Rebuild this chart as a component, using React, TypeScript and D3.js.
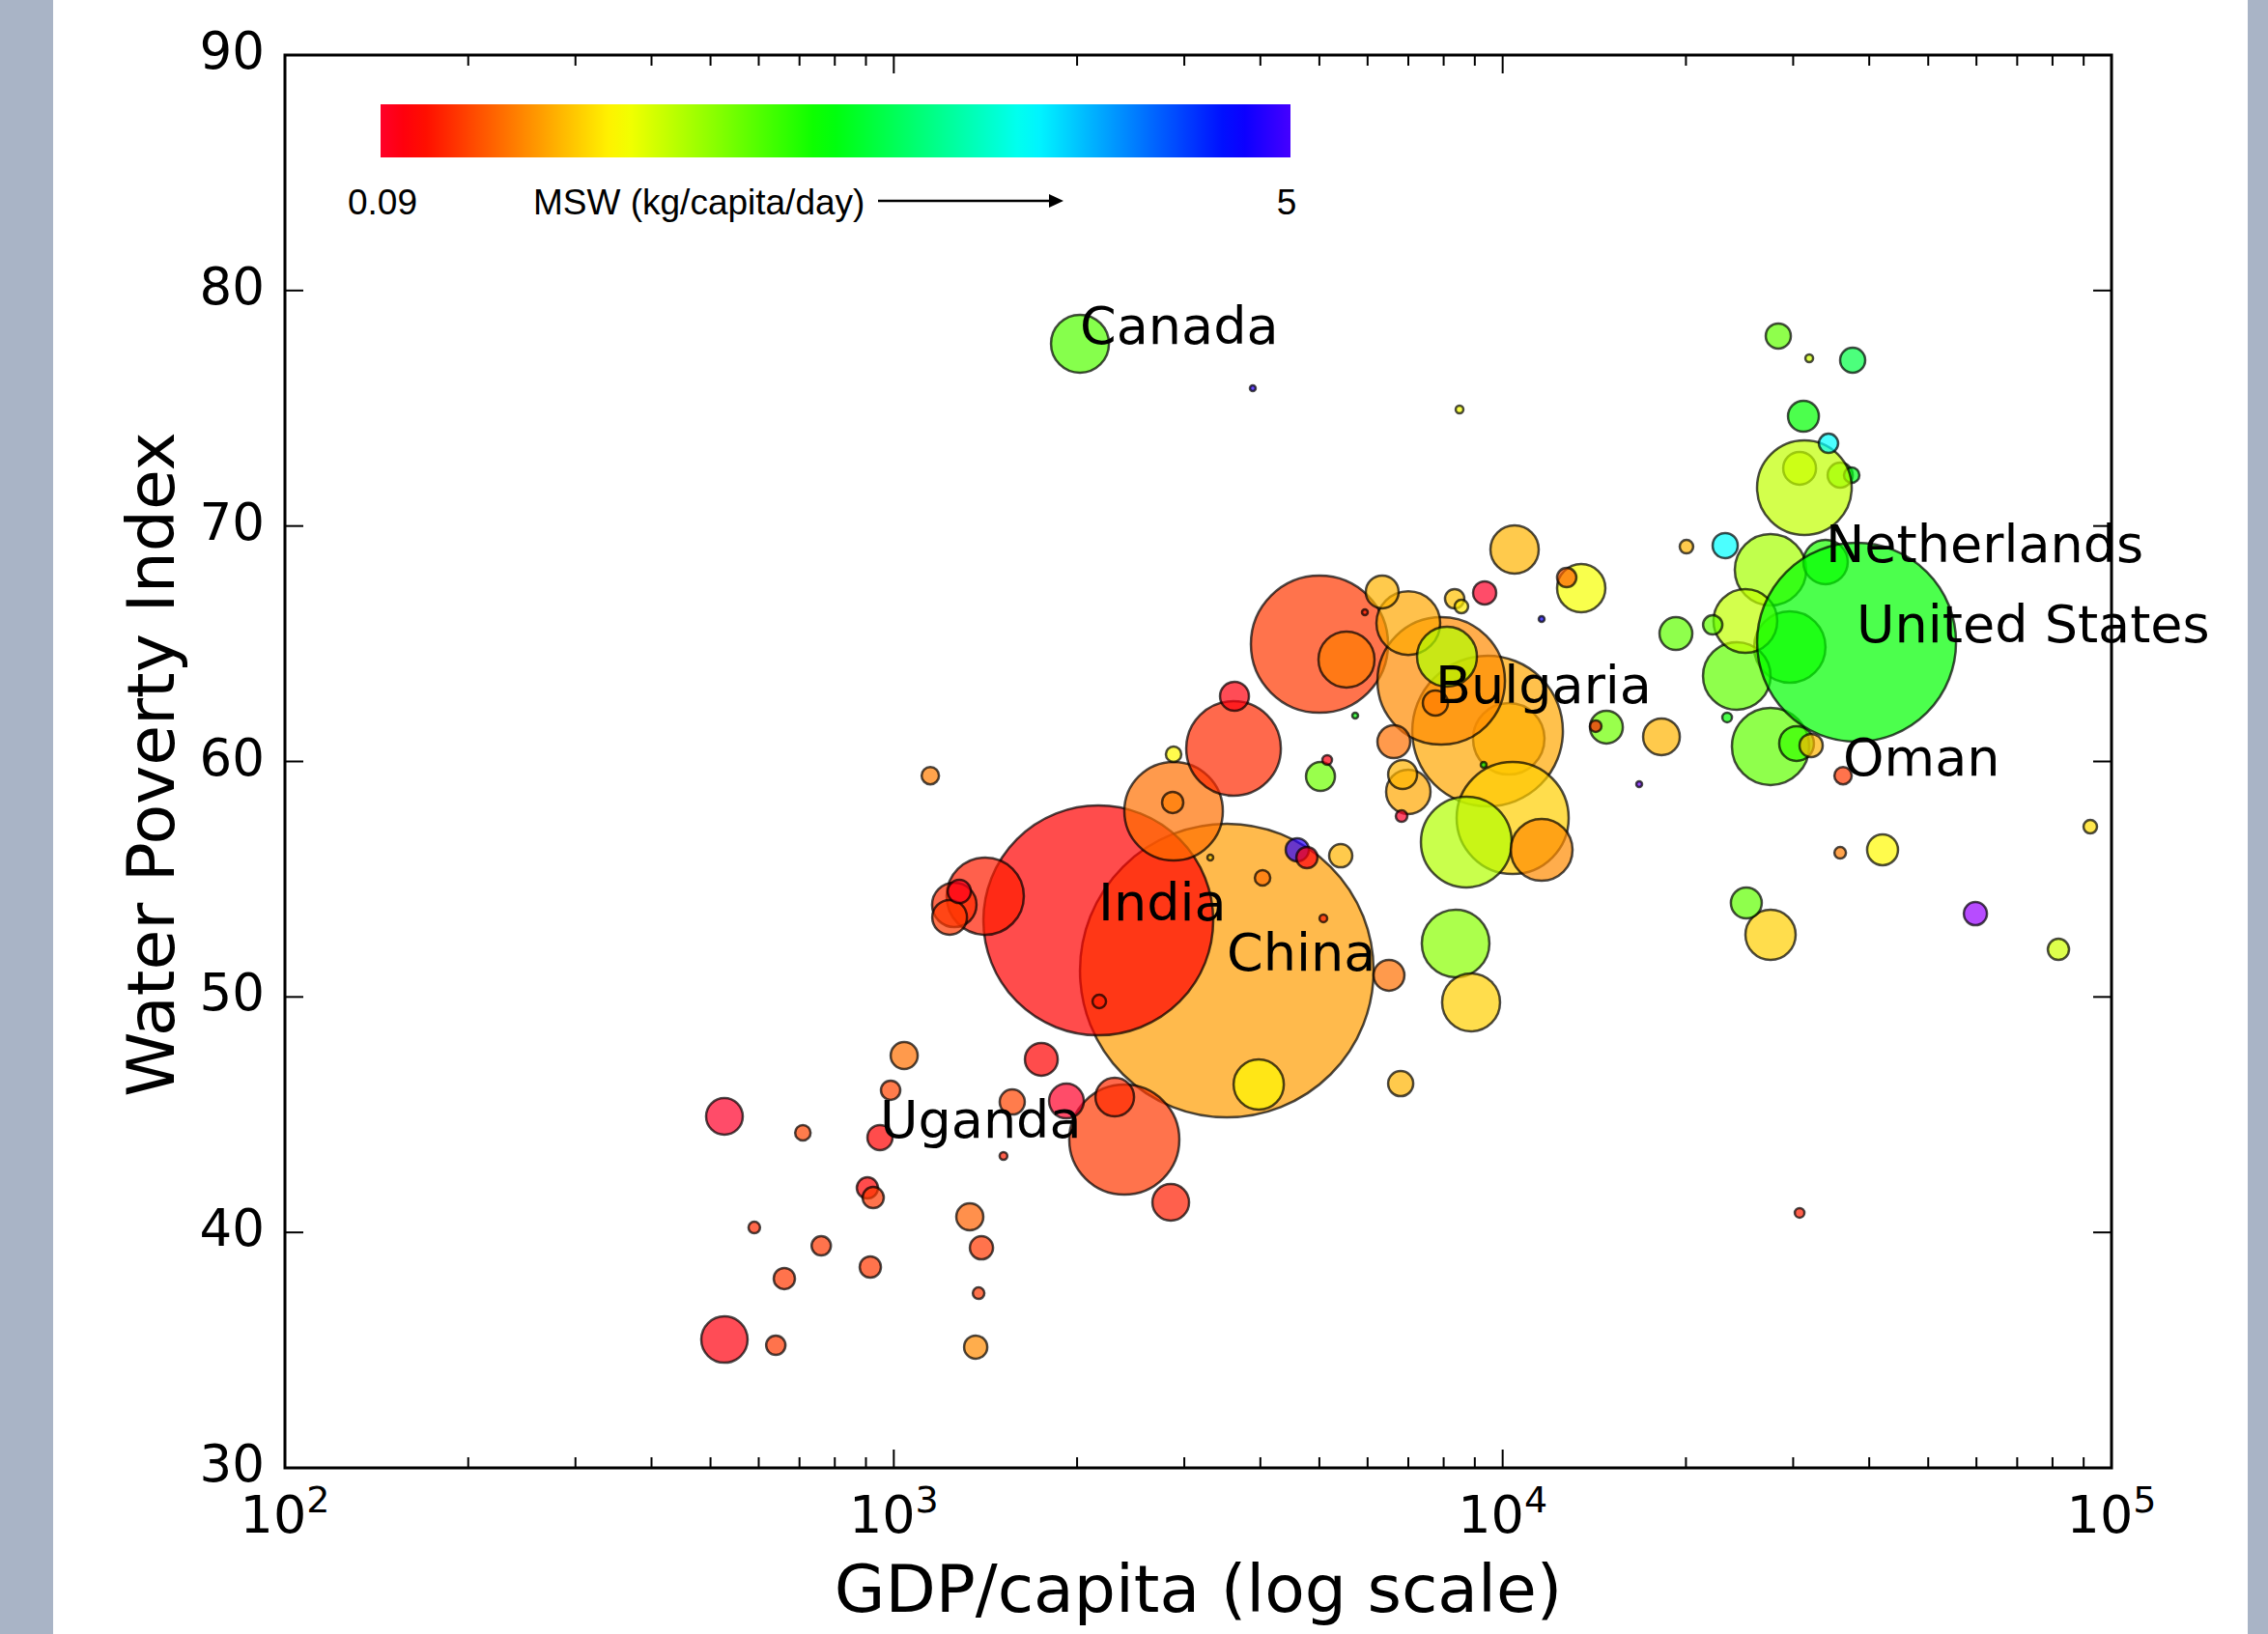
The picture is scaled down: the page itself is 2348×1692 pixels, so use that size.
import React from 'react';
import * as d3 from 'd3';

// ---------- DATA (drawing order) ----------
const gdpPerCapita = [
  27540, 29620, 27540, 24240, 25040, 33910, 30390, 32110, 22130, 23370, 38130,
  30740, 35840, 37430, 31300,
  3523, 2167, 10233, 9445, 5002, 7926, 10385, 2391, 2881, 3614, 8716, 1413, 8370, 6999, 11588, 8101, 8874, 2022,
  5540, 3975, 27540, 10461, 13459, 527, 1257, 6999, 2306, 527, 2850, 18231, 1921, 1235, 1747, 6341, 6626, 19255,
  14805, 31190, 6506, 42070, 25130, 3627, 6850, 5021, 1040, 1333, 1565, 949, 6800, 7754, 28360, 37570, 23200,
  1281, 1393, 1363, 9341, 4599, 5420, 59760, 905, 925, 661, 915, 2871, 4770, 81810, 988, 760, 640, 8340, 12741,
  34290, 1148, 36230, 709, 2881, 4033, 2175, 8556, 20040, 92280, 590, 1378, 6823, 14217, 35840, 5150, 30740,
  1514, 5076, 8495, 31880, 3310, 9307, 5725, 11588, 16758, 5939, 3887,
];
const waterPovertyIndex = [
  60.64, 64.86, 68.14, 63.63, 65.97, 68.47, 60.76, 60.68, 65.8, 61.87, 65.06,
  72.45, 72.16, 72.16, 71.63,
  51.12, 53.25, 60.96, 61.29, 64.98, 63.42, 57.6, 43.94, 57.89, 60.55, 56.58, 54.28, 52.27, 65.88, 56.25, 64.45, 49.77, 77.74,
  64.33, 46.28, 52.64, 69.0, 67.36, 35.45, 53.91, 58.71, 45.75, 44.93, 41.28, 61.05, 45.58, 53.38, 47.35, 67.2, 60.84, 65.43,
  61.46, 74.66, 50.92, 56.25, 53.99, 62.77, 59.45, 59.36, 47.51, 40.66, 45.54, 44.03, 46.32, 62.48, 78.07, 77.04, 69.17,
  54.48, 39.35, 35.13, 67.16, 56.25, 56.0, 53.54, 41.89, 41.48, 38.04, 38.53, 58.26, 55.92, 52.02, 46.04, 39.43, 35.21, 66.91, 67.81,
  73.51, 59.4, 59.4, 44.23, 60.31, 55.06, 49.81, 66.58, 69.12, 57.23, 40.21, 37.42, 57.68, 61.5, 56.12, 60.06, 40.83,
  43.25, 53.34, 74.95, 77.12, 55.92, 59.86, 61.95, 66.05, 59.04, 66.34, 75.85,
];
const bubbleSize = [
  160, 136.9, 136.9, 122.5, 108.9, 52.9, 32.4, 14.4, 10, 2.5, 1060.9,
  28.9, 16.9, 6.4, 240.1,
  2310.4, 1416.1, 136.9, 608.4, 504.1, 435.6, 336.4, 324.9, 260.1, 240.1, 220.9, 160, 122.5, 108.9, 102.4, 96.1, 90, 90,
  84.1, 67.6, 67.6, 62.5, 62.5, 57.6, 52.9, 52.9, 40, 36.1, 36.1, 36.1, 32.4, 32.4, 28.9, 28.9, 28.9, 28.9,
  28.9, 25.6, 25.6, 25.6, 25.6, 22.5, 22.5, 22.5, 19.6, 19.6, 16.9, 16.9, 16.9, 16.9, 16.9, 16.9, 16.9,
  14.4, 14.4, 14.4, 14.4, 14.4, 14.4, 14.4, 12.1, 12.1, 12.1, 12.1, 12.1, 12.1, 12.1, 10, 10, 10, 10, 10,
  10, 8.1, 8.1, 6.4, 6.4, 6.4, 4.9, 4.9, 4.9, 4.9, 3.6, 3.6, 3.6, 3.6, 3.6, 2.5, 2.5,
  1.6, 1.6, 1.6, 1.6, 0.9, 0.9, 0.9, 0.9, 0.9, 0.9, 0.9,
];
const mswPerCapita = [
  2.07, 2.31, 1.77, 2.07, 1.65, 2.37, 2.25, 1.05, 2.07, 2.49, 2.49,
  1.53, 2.07, 2.6, 1.65,
  0.95, 0.27, 1.11, 0.99, 0.51, 0.87, 1.17, 0.51, 0.75, 0.45, 1.71, 0.39, 1.89, 0.99, 0.87, 1.71, 1.17, 2.13,
  0.81, 1.35, 1.17, 1.05, 1.41, 0.21, 0.45, 0.99, 0.45, 0.09, 0.39, 1.05, 0.09, 0.51, 0.27, 1.05, 0.75, 2.07,
  2.01, 2.49, 0.75, 1.35, 2.07, 0.21, 1.05, 2.01, 0.75, 0.69, 0.57, 0.27, 1.05, 0.81, 2.07, 2.78, 3.6,
  0.15, 0.51, 0.87, 0.09, 4.88, 1.05, 5.36, 0.27, 0.51, 0.51, 0.51, 0.81, 0.21, 1.59, 0.57, 0.51, 0.51, 1.11, 0.69,
  3.6, 0.81, 0.51, 0.57, 1.35, 0.75, 0.39, 1.29, 1.05, 1.23, 0.45, 0.51, 0.09, 0.39, 0.81, 0.21, 0.39,
  0.39, 0.39, 1.41, 1.59, 1.17, 2.49, 2.49, 4.76, 5.18, 0.39, 4.88,
];
// labelled countries: index into the arrays above
const labelIndex = [5, 10, 15, 16, 32, 62, 64, 89];
const labelName = ['Netherlands', 'United States', 'China', 'India', 'Canada', 'Uganda', 'Bulgaria', 'Oman'];

const xTickValues = [100, 1000, 10000, 100000];
const xTickExponents = ['2', '3', '4', '5'];
const yTickValues = [30, 40, 50, 60, 70, 80, 90];
const mswRange = [0.09, 5];
const mswTitle = 'MSW (kg/capita/day)';
const xTitle = 'GDP/capita (log scale)';
const yTitle = 'Water Poverty Index';

// ---------- helpers ----------
const rainbowStops: [number, [number, number, number]][] = [
  [0.0, [1, 0, 0.16]],
  [0.03, [1, 0, 0]],
  [0.215, [1, 1, 0]],
  [0.4, [0, 1, 0]],
  [0.586, [0, 1, 1]],
  [0.77, [0, 0, 1]],
  [0.954, [1, 0, 1]],
  [1.0, [1, 0, 0.75]],
];
function gistRainbow(t: number): string {
  t = Math.max(0, Math.min(1, t));
  for (let i = 0; i < rainbowStops.length - 1; i++) {
    const [t0, c0] = rainbowStops[i];
    const [t1, c1] = rainbowStops[i + 1];
    if (t <= t1) {
      const f = (t - t0) / (t1 - t0);
      const c = c0.map((v, k) => Math.round(255 * (v + (c1[k] - v) * f)));
      return `rgb(${c[0]},${c[1]},${c[2]})`;
    }
  }
  return 'rgb(255,0,191)';
}

const W = 2348;
const H = 1692;
const L = 295, R = 2186, T = 57, B = 1520;

export default function App() {
  const x = d3.scaleLog().domain([100, 100000]).range([L, R]);
  const y = d3.scaleLinear().domain([30, 90]).range([B, T]);
  const r = d3.scaleSqrt().domain([0, 1000]).range([0, 100]);
  const cpos = d3.scaleLinear().domain(mswRange).range([0, 0.82]);

  const minorTicks: number[] = [];
  for (const d of [100, 1000, 10000]) for (let k = 2; k <= 9; k++) minorTicks.push(d * k);

  const barX0 = 394, barX1 = 1336, barY0 = 108, barY1 = 163;
  const gradStops = d3.range(0, 41).map((i) => i / 40);

  const tickFont = '"DejaVu Sans", sans-serif';
  const legendFont = '"Liberation Sans", Arial, sans-serif';

  return (
    <svg width={W} height={H} style={{ position: 'absolute', left: 0, top: 0 }} xmlns="http://www.w3.org/2000/svg">
      <defs>
        <linearGradient id="msw-grad" x1="0" x2="1" y1="0" y2="0">
          {gradStops.map((f) => (
            <stop key={f} offset={f} stopColor={gistRainbow(cpos(mswRange[0] + f * (mswRange[1] - mswRange[0])))} />
          ))}
        </linearGradient>
        <clipPath id="plot-clip">
          <rect x={L} y={T} width={R - L} height={B - T} />
        </clipPath>
      </defs>
      <rect x={0} y={0} width={W} height={H} fill="#ffffff" />
      <rect x={0} y={0} width={55} height={H} fill="#a9b4c6" />
      <rect x={2327} y={0} width={W - 2327} height={H} fill="#a9b4c6" />

      {/* bubbles */}
      <g clipPath="url(#plot-clip)">
        {gdpPerCapita.map((g, i) => (
          <circle
            key={i}
            cx={x(g)}
            cy={y(waterPovertyIndex[i])}
            r={r(bubbleSize[i])}
            fill={gistRainbow(cpos(mswPerCapita[i]))}
            fillOpacity={0.7}
            stroke="#000"
            strokeOpacity={0.7}
            strokeWidth={2.5}
          />
        ))}
      </g>

      {/* country labels */}
      {labelIndex.map((i, k) => (
        <text key={labelName[k]} x={x(gdpPerCapita[i])} y={y(waterPovertyIndex[i])} fontFamily={tickFont} fontSize={54} fill="#000">
          {labelName[k]}
        </text>
      ))}

      {/* frame */}
      <rect x={L} y={T} width={R - L} height={B - T} fill="none" stroke="#000" strokeWidth={3} />

      {/* x ticks */}
      {xTickValues.map((v) => (
        <g key={'xt' + v}>
          <line x1={x(v)} x2={x(v)} y1={B} y2={B - 19} stroke="#000" strokeWidth={2} />
          <line x1={x(v)} x2={x(v)} y1={T} y2={T + 19} stroke="#000" strokeWidth={2} />
        </g>
      ))}
      {minorTicks.map((v) => (
        <g key={'xm' + v}>
          <line x1={x(v)} x2={x(v)} y1={B} y2={B - 11} stroke="#000" strokeWidth={2} />
          <line x1={x(v)} x2={x(v)} y1={T} y2={T + 11} stroke="#000" strokeWidth={2} />
        </g>
      ))}
      {xTickValues.map((v, i) => (
        <text key={'xl' + v} x={x(v)} y={1587} textAnchor="middle" fontFamily={tickFont} fontSize={54} fill="#000">
          10
          <tspan dy={-21} fontSize={38}>{xTickExponents[i]}</tspan>
        </text>
      ))}

      {/* y ticks */}
      {yTickValues.map((v) => (
        <g key={'yt' + v}>
          <line x1={L} x2={L + 19} y1={y(v)} y2={y(v)} stroke="#000" strokeWidth={2} />
          <line x1={R} x2={R - 19} y1={y(v)} y2={y(v)} stroke="#000" strokeWidth={2} />
          <text x={274} y={y(v) + 14} textAnchor="end" fontFamily={tickFont} fontSize={53} fill="#000">
            {v}
          </text>
        </g>
      ))}

      {/* axis titles */}
      <text x={(L + R) / 2} y={1669} textAnchor="middle" fontFamily={tickFont} fontSize={68} fill="#000">
        {xTitle}
      </text>
      <text
        transform={`translate(180, ${(T + B) / 2 + 3}) rotate(-90)`}
        textAnchor="middle"
        fontFamily={tickFont}
        fontSize={68}
        fill="#000"
      >
        {yTitle}
      </text>

      {/* colour bar legend */}
      <rect x={barX0} y={barY0} width={barX1 - barX0} height={barY1 - barY0} fill="url(#msw-grad)" />
      <text x={barX0 + 2} y={222} textAnchor="middle" fontFamily={legendFont} fontSize={37} fill="#000">
        {String(mswRange[0])}
      </text>
      <text x={barX1 - 4} y={222} textAnchor="middle" fontFamily={legendFont} fontSize={37} fill="#000">
        {String(mswRange[1])}
      </text>
      <text x={552} y={222} fontFamily={legendFont} fontSize={37} fill="#000">
        {mswTitle}
      </text>
      <line x1={909} x2={1088} y1={208} y2={208} stroke="#000" strokeWidth={2.5} />
      <polygon points="1086,201 1101,208 1086,215" fill="#000" />
    </svg>
  );
}
